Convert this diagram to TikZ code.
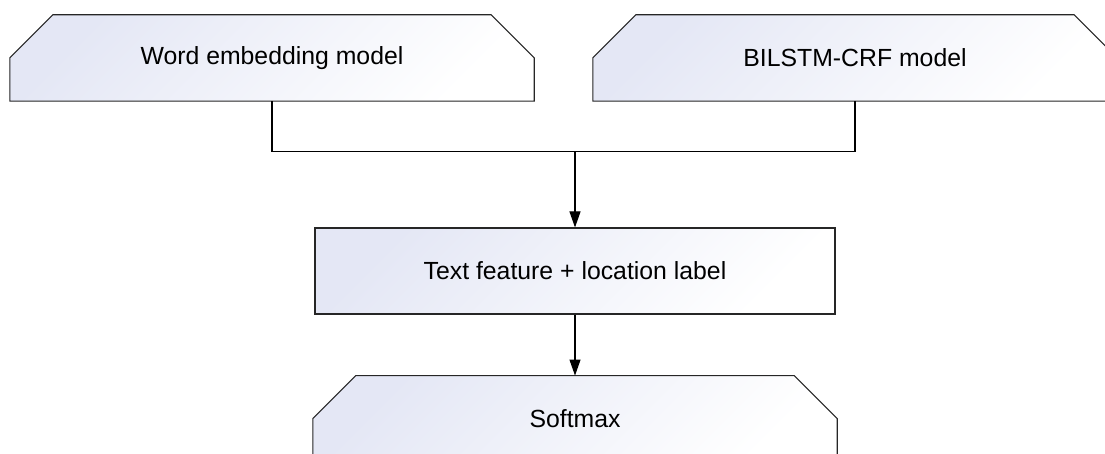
\documentclass[tikz,border=0pt]{standalone}
\usepackage{fontspec}
\setmainfont{Liberation Sans}
\usepackage{xcolor}
\usetikzlibrary{positioning, arrows.meta, backgrounds}

\definecolor{boxshade}{RGB}{228,231,245}

\begin{document}
\begin{tikzpicture}[
    x=1pt, y=-1pt,
    node distance=61pt,
    boxfill/.style={draw=black!85, line width=1.1pt, top color=boxshade, bottom color=white, shading angle=45},
    label/.style={rectangle, minimum width=520pt, minimum height=86pt, align=center,
        font=\fontsize{24.8}{30}\selectfont},
    stage/.style={label, boxfill},
    model/.style={label, minimum width=524pt},
    link/.style={draw=black, line width=1.1pt},
    flow/.style={link, -{Triangle[length=16pt, width=11pt]}}
]
\useasboundingbox (0,0) rectangle (1105,454);
\clip (0,0) rectangle (1105,454);

\node[model] (word) at (272,58) {Word embedding model};
\node[model] (bilstm) at (855,58) {BILSTM-CRF model};
\node[stage] (feature) at (575,271) {Text feature + location label};
\node[model, below=of feature] (softmax) {Softmax};

\begin{scope}[on background layer]
\foreach \n in {word, bilstm, softmax}
  \path[boxfill] (\n.south west) -- ([yshift=-43pt]\n.north west) -- ([xshift=43pt]\n.north west)
    -- ([xshift=-43pt]\n.north east) -- ([yshift=-43pt]\n.north east) -- (\n.south east) -- cycle;
\end{scope}

\path (word.south) ++(0,50) coordinate (wjoin);
\coordinate (merge) at (feature.north |- wjoin);

\draw[link] (word.south) -- (wjoin) -| (bilstm.south);
\draw[flow] (merge) -- (feature);
\draw[flow] (feature) -- (softmax);

\end{tikzpicture}
\end{document}
